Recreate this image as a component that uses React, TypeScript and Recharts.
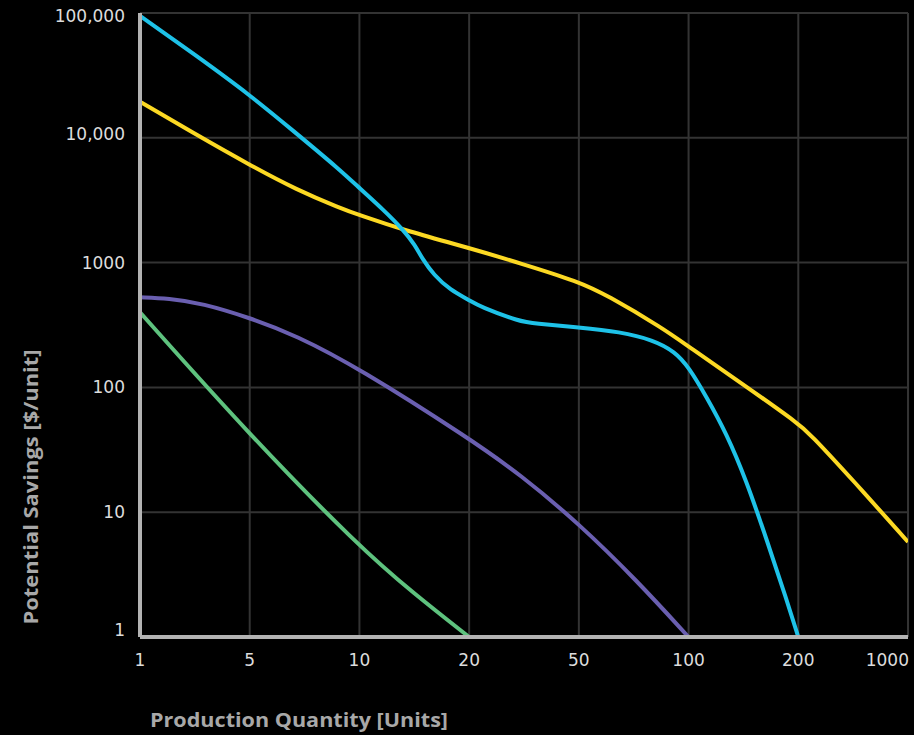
import React from 'react';
import { LineChart, Line, XAxis, YAxis, CartesianGrid, Label } from 'recharts';

// Category ticks on the x axis (evenly spaced on the chart)
const xTickQty = [1, 5, 10, 20, 50, 100, 200, 1000];
const xTickLabels = ['1', '5', '10', '20', '50', '100', '200', '1000'];
const yTicks = [1, 10, 100, 1000, 10000, 100000];
const yTickLabels = ['1', '10', '100', '1000', '10,000', '100,000'];

// Series (production quantity -> potential savings $/unit)
const cyanQty = [1, 2.31, 5, 6.6, 8.87, 10, 11.65, 13.2, 14.2, 14.85, 16, 17.75, 20, 21.9, 30.7, 34.3, 50, 64.8, 80, 91.8, 100, 112, 127, 144, 164, 186, 200];
const cyanSavings = [95000, 45000, 22100, 11300, 5500, 3950, 2640, 1826, 1384, 1082, 795, 603, 501, 443, 336, 326, 303, 279, 240, 193, 146, 84, 42.8, 18, 5.96, 1.97, 1];

const yellowQty = [1, 2.31, 5, 6.74, 8.87, 10, 13.2, 20, 30.7, 50, 59.6, 85.2, 100, 139.7, 200, 236, 447, 1000];
const yellowSavings = [19500, 10500, 6060, 3820, 2730, 2400, 1826, 1310, 987, 703, 550, 297, 212, 108, 51.4, 42.8, 18, 5.78];

const purpleQty = [1, 1.52, 2.49, 5, 6.67, 10, 20, 30.7, 50, 72, 100];
const purpleSavings = [527, 517, 472, 361, 263, 142, 39, 20, 8.1, 2.85, 1];

const greenQty = [1, 5, 10, 14.1, 20];
const greenSavings = [400, 41.4, 5.27, 2.23, 1];

// map a quantity to its position on the evenly spaced category axis
const toPos = (q: number) => {
  for (let k = 0; k < xTickQty.length - 1; k++) {
    const a = xTickQty[k];
    const b = xTickQty[k + 1];
    if (q <= b) return k + Math.log(q / a) / Math.log(b / a);
  }
  return xTickQty.length - 1;
};

const build = (qty: number[], vals: number[]) => qty.map((q, i) => ({ x: toPos(q), v: vals[i] }));

const cyanData = build(cyanQty, cyanSavings);
const yellowData = build(yellowQty, yellowSavings);
const purpleData = build(purpleQty, purpleSavings);
const greenData = build(greenQty, greenSavings);

const TICK_FONT = '"DejaVu Sans", sans-serif';
const TITLE_FONT = '"Open Sans", sans-serif';

const XTick = (props: any) => {
  const { x, y, payload } = props;
  const idx = payload.value as number;
  const last = idx === xTickLabels.length - 1;
  return (
    <text
      x={last ? x + 1 : x}
      y={y + 29}
      textAnchor={last ? 'end' : 'middle'}
      fill="#dcdcdc"
      fontFamily={TICK_FONT}
      fontSize={17}
    >
      {xTickLabels[idx]}
    </text>
  );
};

const YTick = (props: any) => {
  const { x, y, payload } = props;
  const i = yTicks.indexOf(payload.value);
  const nudge = i === 0 ? -7 : i === 5 ? 3 : i === 4 ? -4 : 0;
  return (
    <text
      x={x - 15}
      y={y + 6 + nudge}
      textAnchor="end"
      fill="#dcdcdc"
      fontFamily={TICK_FONT}
      fontSize={17}
    >
      {yTickLabels[i]}
    </text>
  );
};

export default function App() {
  return (
    <div style={{ position: 'absolute', left: 0, top: 0, width: 914, height: 735, background: '#000' }}>
      <LineChart width={914} height={735} margin={{ top: 13, right: 6, bottom: 0, left: 10 }}>
        <CartesianGrid stroke="#333" strokeWidth={2} />
        <XAxis
          type="number"
          dataKey="x"
          domain={[0, 7]}
          ticks={[0, 1, 2, 3, 4, 5, 6, 7]}
          height={98}
          tickLine={false}
          tickSize={0}
          tickMargin={0}
          axisLine={{ stroke: '#b3b3b3', strokeWidth: 4 }}
          tick={<XTick />}
          interval={0}
          allowDataOverflow
        >
          <Label
            content={() => (
              <text
                x={150}
                y={727}
                fill="#a8a8a8"
                fontFamily={TITLE_FONT}
                fontWeight={700}
                fontSize={20}
                textLength={298}
                lengthAdjust="spacingAndGlyphs"
              >
                Production Quantity [Units]
              </text>
            )}
          />
        </XAxis>
        <YAxis
          type="number"
          scale="log"
          domain={[1, 100000]}
          ticks={yTicks}
          width={130}
          tickLine={false}
          tickSize={0}
          tickMargin={0}
          axisLine={{ stroke: '#b3b3b3', strokeWidth: 4 }}
          tick={<YTick />}
          interval={0}
          allowDataOverflow
        >
          <Label
            content={() => (
              <text
                x={38}
                y={487}
                transform="rotate(-90, 38, 487)"
                textAnchor="middle"
                fill="#a8a8a8"
                fontFamily={TITLE_FONT}
                fontWeight={700}
                fontSize={20}
                textLength={275}
                lengthAdjust="spacingAndGlyphs"
              >
                Potential Savings [$/unit]
              </text>
            )}
          />
        </YAxis>
        <Line data={greenData} dataKey="v" type="basis" stroke="#5ec27e" strokeWidth={4} dot={false} isAnimationActive={false} />
        <Line data={purpleData} dataKey="v" type="basis" stroke="#6a5fb0" strokeWidth={4} dot={false} isAnimationActive={false} />
        <Line data={yellowData} dataKey="v" type="basis" stroke="#fcd923" strokeWidth={4} dot={false} isAnimationActive={false} />
        <Line data={cyanData} dataKey="v" type="basis" stroke="#1ec2e8" strokeWidth={4} dot={false} isAnimationActive={false} />
      </LineChart>
    </div>
  );
}
